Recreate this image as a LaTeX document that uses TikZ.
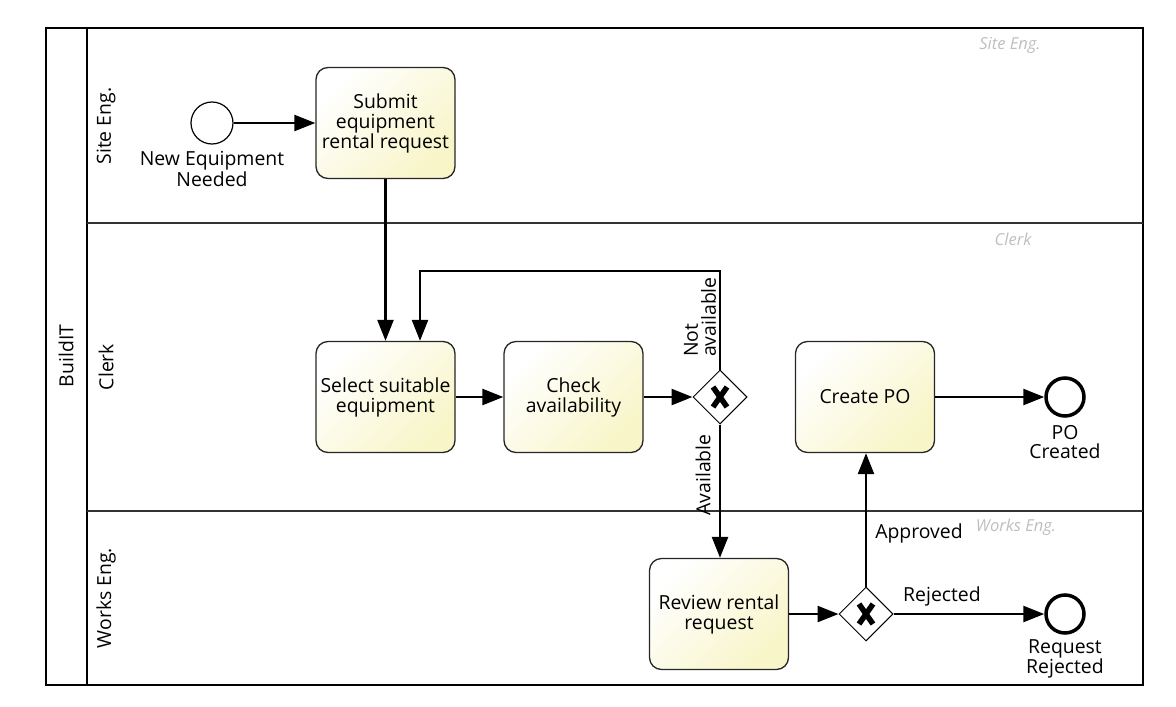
\documentclass[tikz,border=0pt]{standalone}
\usepackage{fontspec}
\setmainfont{Open Sans}
\usetikzlibrary{arrows.meta,shapes.geometric,calc}
\definecolor{taskyellow}{RGB}{248,245,200}
\definecolor{lanegray}{RGB}{190,190,190}
\begin{document}
\begin{tikzpicture}[x=1pt,y=-1pt,
  every node/.style={font=\fontsize{19.4}{20}\selectfont, inner sep=0pt},
  task/.style={draw=black!85, line width=1.3pt, rounded corners=12pt,
    minimum width=139pt, minimum height=111pt, align=center,
    top color=white, bottom color=taskyellow, shading angle=45},
  gateway/.style={diamond, draw=black, line width=1pt, fill=white,
    minimum width=54pt, minimum height=54pt},
  startev/.style={circle, draw=black, line width=1.2pt, fill=white, minimum size=42pt},
  endev/.style={circle, draw=black, line width=3.5pt, fill=white, minimum size=38pt},
  flow/.style={line width=2.5pt, -{Triangle[length=21pt,width=16pt]}},
  lanelbl/.style={rotate=90},
  ghost/.style={font=\fontsize{16.5}{18}\selectfont\itshape, text=lanegray},
  evlbl/.style={align=center, font=\fontsize{19.4}{19}\selectfont}
]
\useasboundingbox (0,0) rectangle (1176,707);
% pool and lanes
\draw[line width=1.8pt] (46,28) rectangle (1143,685);
\draw[line width=1.8pt] (87,28) -- (87,685);
\draw[line width=1.3pt, black!80] (87,223) -- (1143,223);
\draw[line width=1.3pt, black!80] (87,511) -- (1143,511);
\node[lanelbl] (pool) at (66,356) {BuildIT};
\node[lanelbl] (l1) at (106,126) {Site Eng.};
\node[lanelbl] (l2) at (106,367) {Clerk};
\node[lanelbl] (l3) at (106,598) {Works Eng.};
\node[ghost] (g1l) at (1010,45) {Site Eng.};
\node[ghost] (g2l) at (1013,239) {Clerk};
\node[ghost] (g3l) at (1016,527) {Works Eng.};
% events
\node[startev] (s) at (212,123) {};
\node[evlbl] (sl) at (212,169) {New Equipment\\Needed};
\node[endev] (e1) at (1065,397) {};
\node[evlbl] (e1l) at (1065,442) {PO\\Created};
\node[endev] (e2) at (1065,614) {};
\node[evlbl] (e2l) at (1065,659) {Request\\Rejected};
% tasks
\node[task] (t1) at (385.5,123) {Submit\\equipment\\rental request};
\node[task] (t2) at (385.5,397) {Select suitable\\equipment};
\node[task] (t3) at (573.5,397) {Check\\availability};
\node[task] (t4) at (719,614) {Review rental\\request};
\node[task] (t5) at (865,397) {Create PO};
% gateways
\node[gateway] (g1) at (720,397) {};
\node[gateway] (g2) at (866,614) {};
\foreach \g in {g1,g2}{
  \draw[line width=5.5pt] ($(\g)+(-7,-10)$) -- ($(\g)+(7,10)$);
  \draw[line width=5.5pt] ($(\g)+(7,-10)$) -- ($(\g)+(-7,10)$);
}
% flows
\coordinate (lp) at (420,271);
\draw[flow] (s) -- (t1);
\draw[flow] (t1) -- (t2);
\draw[flow] (t2) -- (t3);
\draw[flow] (t3) -- (g1);
\draw[flow] (g1.north) |- (lp) -- (lp |- t2.north);
\draw[flow] (g1.south) -- (g1.south |- t4.north);
\draw[flow] (t4) -- (g2);
\draw[flow] (g2.north) -- (g2.north |- t5.south);
\draw[flow] (t5) -- (e1);
\draw[flow] (g2) -- (e2);
% labels
\node[rotate=90, align=left, anchor=west, font=\fontsize{19.4}{18}\selectfont] (na) at (700,357) {Not\\available};
\node[rotate=90] (av) at (703,475) {Available};
\node (ap) at (919,533) {Approved};
\node (rj) at (942,596) {Rejected};
\end{tikzpicture}
\end{document}
